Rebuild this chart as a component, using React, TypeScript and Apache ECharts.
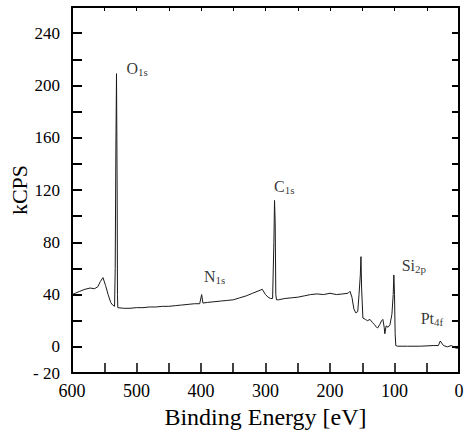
import React, { useEffect, useRef } from "react";
import * as echarts from "echarts";

// Binding energy (eV) and intensity (kCPS)
const energy = [
  600, 595, 588, 580, 572, 565, 560, 556, 552, 548, 544, 540, 537, 534, 533, 532, 531, 530, 529.5, 529,
  520, 510, 500, 490, 480, 470, 460, 450, 440, 430, 420, 410, 402, 399, 397, 390, 380, 370, 360, 350,
  340, 330, 320, 310, 305, 300, 296, 292, 289, 287, 286, 285, 284, 283, 280, 270, 260, 250, 240, 230,
  220, 210, 200, 190, 180, 172, 169, 166, 163, 160, 157, 155, 153, 152, 151, 149, 145, 142, 138, 134,
  131, 128, 126, 123, 120, 118, 116, 115, 113, 110, 107, 104, 102, 101, 100, 99, 98, 95, 80, 60,
  40, 32, 29, 27, 24, 18, 12, 8, 5, 2, 0,
];
const counts = [
  40, 41, 42.5, 44, 45, 44.5, 46, 50, 53, 47, 40, 34, 32, 31, 60, 150, 209, 120, 40, 30,
  29.5, 29.5, 30, 30, 30.5, 30.5, 31, 31, 31.5, 32, 32.5, 33, 33, 40, 33.5, 34, 34.5, 35, 35.5, 36,
  37.5, 39, 41, 43, 44, 40, 38, 37, 37, 80, 112, 95, 40, 36, 36, 37, 37.5, 38, 39, 40,
  40.5, 40, 41, 40, 40.5, 41, 42.5, 38, 29, 26, 27, 40, 55, 69, 45, 22, 21, 20, 21, 18.5,
  17, 15, 14.5, 17, 20, 21, 15, 10, 16, 15, 17, 25, 40, 55, 40, 10, 1, 0.5, 0.5, 0.5,
  1, 1, 4.5, 3, 1, 0, 1, 0, -1, -1, -2,
];

// Peak annotations (label centre in data coordinates)
const peakNames = ["O", "C", "N", "Si", "Pt"];
const peakSubs = ["1s", "1s", "1s", "2p", "4f"];
const peakLabelE = [499, 271, 379, 70, 42];
const peakLabelV = [213, 123, 53.5, 62.5, 22];

const yTickLabels = [240, 200, 160, 120, 80, 40, 0, -20];
const xTickLabels = [600, 500, 400, 300, 200, 100, 0];

const SERIF = "Liberation Serif";

export default function App() {
  const ref = useRef<HTMLDivElement>(null);

  useEffect(() => {
    document.body.style.margin = "0";
    if (!ref.current) return;
    const chart = echarts.init(ref.current, undefined, { renderer: "svg" });

    const lineData = energy.map((e, i) => [e, counts[i]]);
    const annotData = peakNames.map((n, i) => ({
      value: [peakLabelE[i], peakLabelV[i]],
      label: { formatter: `{m|${n}}{s|${peakSubs[i]}}` },
    }));

    const axisLineStyle = { color: "#000", width: 2 };

    chart.setOption({
      animation: false,
      backgroundColor: "#fff",
      grid: {
        left: 72,
        right: 6,
        top: 7,
        bottom: 66,
        containLabel: false,
        outerBoundsMode: "none",
      },
      xAxis: [
        {
          type: "value",
          min: 0,
          max: 600,
          interval: 50,
          inverse: true,
          position: "bottom",
          axisLine: { show: true, onZero: false, lineStyle: axisLineStyle },
          axisTick: { show: true, inside: true, length: 10, lineStyle: { color: "#000", width: 1.5 } },
          axisLabel: {
            formatter: (v: number) => (xTickLabels.includes(v) ? String(v) : ""),
            fontSize: 18,
            color: "#000",
            fontFamily: SERIF,
            margin: 9,
          },
          splitLine: { show: false },
          name: "Binding Energy [eV]",
          nameLocation: "middle",
          nameGap: 27,
          nameTextStyle: { fontSize: 24, color: "#000", fontFamily: SERIF },
        },
        {
          type: "value",
          min: 0,
          max: 600,
          interval: 50,
          inverse: true,
          position: "top",
          axisLine: { show: true, onZero: false, lineStyle: axisLineStyle },
          axisTick: { show: true, inside: true, length: 4, lineStyle: { color: "#000", width: 1 } },
          axisLabel: { show: false },
          splitLine: { show: false },
        },
      ],
      yAxis: [
        {
          type: "value",
          min: -20,
          max: 260,
          interval: 20,
          position: "left",
          axisLine: { show: true, onZero: false, lineStyle: axisLineStyle },
          axisTick: { show: true, inside: true, length: 10, lineStyle: { color: "#000", width: 2 } },
          axisLabel: {
            formatter: (v: number) =>
              yTickLabels.includes(v) ? (v < 0 ? "- " + Math.abs(v) : String(v)) : "",
            fontSize: 17,
            color: "#000",
            fontFamily: SERIF,
            margin: 12,
          },
          splitLine: { show: false },
          name: "kCPS",
          nameLocation: "middle",
          nameGap: 42,
          nameRotate: 90,
          nameMoveOverlap: false,
          nameTextStyle: { fontSize: 22, color: "#000", fontFamily: SERIF },
        },
        {
          type: "value",
          min: -20,
          max: 260,
          interval: 20,
          position: "right",
          axisLine: { show: true, onZero: false, lineStyle: axisLineStyle },
          axisTick: { show: true, inside: true, length: 7, lineStyle: { color: "#000", width: 2 } },
          axisLabel: { show: false },
          splitLine: { show: false },
        },
      ],
      series: [
        {
          type: "line",
          data: lineData,
          xAxisIndex: 0,
          yAxisIndex: 0,
          showSymbol: false,
          symbol: "none",
          lineStyle: { color: "#1a1a1a", width: 1 },
          z: 3,
        },
        {
          type: "scatter",
          data: annotData,
          xAxisIndex: 0,
          yAxisIndex: 0,
          symbolSize: 1,
          itemStyle: { color: "rgba(0,0,0,0)" },
          silent: true,
          label: {
            show: true,
            position: "inside",
            color: "#000",
            fontFamily: SERIF,
            rich: {
              m: { fontSize: 16, lineHeight: 18, fontFamily: SERIF, color: "#000" },
              s: {
                fontSize: 11,
                lineHeight: 11,
                fontFamily: SERIF,
                color: "#000",
                verticalAlign: "bottom",
                padding: [6, 0, 0, 0],
              },
            },
          },
          z: 4,
        },
      ],
    });

    return () => chart.dispose();
  }, []);

  return <div ref={ref} style={{ width: 465, height: 439 }} />;
}
